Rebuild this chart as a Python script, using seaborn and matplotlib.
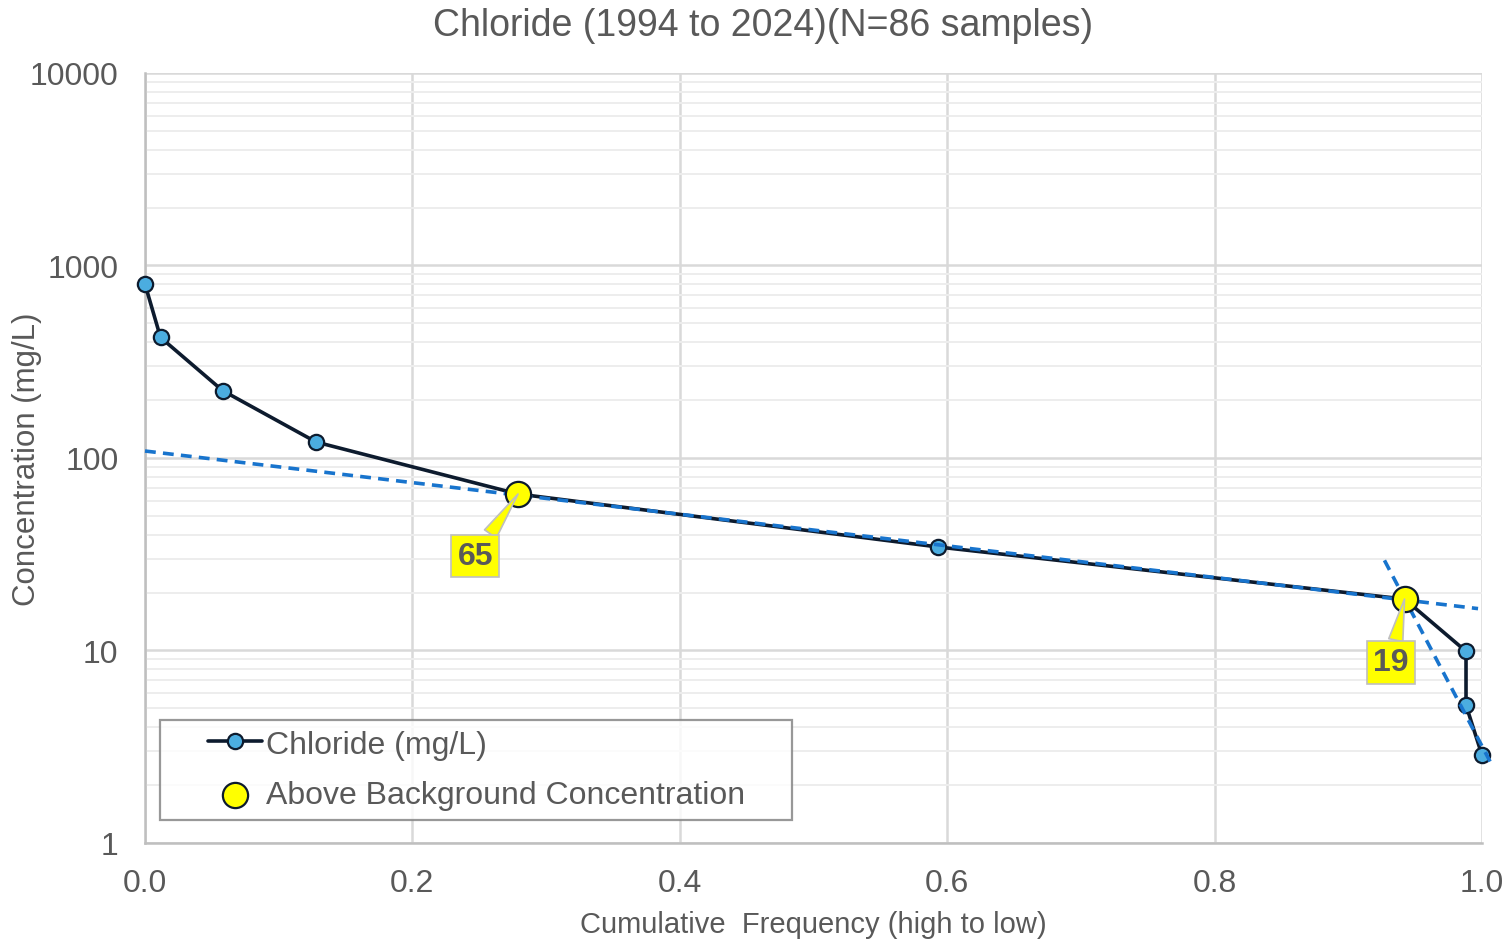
import numpy as np
import pandas as pd
import matplotlib
matplotlib.use("Agg")
import matplotlib.pyplot as plt
import seaborn as sns
from matplotlib.ticker import LogLocator, FixedLocator, FixedFormatter, NullFormatter
from matplotlib.legend_handler import HandlerLine2D, HandlerPathCollection
from matplotlib.lines import Line2D
from matplotlib.collections import PathCollection

# ---- data ----
cum_freq = [0.0, 0.0116, 0.058, 0.128, 0.279, 0.593, 0.942, 0.988, 0.988, 1.0]
chloride = [800, 423, 224, 121, 65, 34.5, 18.5, 9.9, 5.2, 2.85]
bg_freq = [0.279, 0.942]
bg_conc = [65, 18.5]
bg_labels = ["65", "19"]
label_freq = [0.247, 0.932]
label_conc = [31.0, 8.7]
trend1_x = [0.0, 0.997]
trend1_y = [108.7, 16.5]
trend2_x = [0.927, 1.006]
trend2_y = [29.4, 2.65]
x_ticks = [0.0, 0.2, 0.4, 0.6, 0.8, 1.0]
x_tick_labels = ["0.0", "0.2", "0.4", "0.6", "0.8", "1.0"]
y_ticks = [1, 10, 100, 1000, 10000]
y_tick_labels = ["1", "10", "100", "1000", "10000"]

sns.set_style("white")
plt.rcParams['font.family'] = ['Liberation Sans', 'DejaVu Sans']

TXT = "#595959"
GRID = "#D9D9D9"
MINOR = "#EDEDED"

fig = plt.figure(figsize=(15.12, 9.45), dpi=100)
ax = fig.add_axes([0.0959, 0.1069, 0.8843, 0.8148])

df = pd.DataFrame({"x": cum_freq, "y": chloride})
sns.lineplot(data=df, x="x", y="y", ax=ax, color="#0D1B2E", lw=2.6,
             marker="o", markersize=11, markerfacecolor="#4BADE0",
             markeredgecolor="#0D1B2E", markeredgewidth=1.6, zorder=4,
             label="Chloride (mg/L)", sort=False, estimator=None, clip_on=False)

ax.plot(trend1_x, trend1_y, ls=(0, (3, 2)), color="#1874CD", lw=2.6, zorder=5, clip_on=False)
ax.plot(trend2_x, trend2_y, ls=(0, (3, 2)), color="#1874CD", lw=2.6, zorder=5, clip_on=False)

sns.scatterplot(x=bg_freq, y=bg_conc, ax=ax, s=330, color="#FFFF00",
                edgecolor="#0D1B2E", linewidth=1.6, zorder=6,
                label="Above Background Concentration")

for lx, ly, px, py, t in zip(label_freq, label_conc, bg_freq, bg_conc, bg_labels):
    ax.annotate(t, xy=(px, py), xytext=(lx, ly), ha="center", va="center",
                fontsize=23, fontweight="bold", color=TXT, zorder=7,
                bbox=dict(boxstyle="square,pad=0.2", fc="#FFFF00", ec="#BFBFBF", lw=1.2),
                arrowprops=dict(arrowstyle="wedge,tail_width=0.45,shrink_factor=0.5",
                                fc="#FFFF00", ec="#BFBFBF", lw=1.2, shrinkA=0, shrinkB=0))

ax.set_yscale("log")
ax.set_xlim(0, 1.0)
ax.set_ylim(1, 10000)

ax.yaxis.set_major_locator(FixedLocator(y_ticks))
ax.yaxis.set_major_formatter(FixedFormatter(y_tick_labels))
ax.yaxis.set_minor_locator(LogLocator(base=10, subs=np.arange(2, 10)))
ax.yaxis.set_minor_formatter(NullFormatter())
ax.xaxis.set_major_locator(FixedLocator(x_ticks))
ax.xaxis.set_major_formatter(FixedFormatter(x_tick_labels))

ax.grid(True, which="major", color=GRID, lw=1.8, zorder=0)
ax.grid(True, which="minor", axis="y", color=MINOR, lw=1.4, zorder=0)
ax.set_axisbelow(True)

for s in ["top", "right"]:
    ax.spines[s].set_visible(False)
for s in ["left", "bottom"]:
    ax.spines[s].set_color("#BFBFBF")
    ax.spines[s].set_linewidth(1.8)

ax.tick_params(axis="both", which="major", direction="out", length=8, width=1.8,
               color="#BFBFBF", labelsize=23, labelcolor=TXT)
ax.tick_params(axis="y", which="major", pad=11)
ax.tick_params(axis="x", which="major", pad=10)
ax.tick_params(axis="y", which="minor", length=0)

ax.set_xlabel("Cumulative  Frequency (high to low)", fontsize=21, color=TXT, va="center")
ax.set_ylabel("Concentration (mg/L)", fontsize=22.5, color=TXT, va="center")
ax.xaxis.set_label_coords(0.5, -0.105)
ax.yaxis.set_label_coords(-0.0883, 0.5)
fig.text(0.505, 0.972, "Chloride (1994 to 2024)(N=86 samples)", fontsize=27,
         color=TXT, ha="center", va="center")

leg = ax.legend(loc="lower left", bbox_to_anchor=(0.0112, 0.0299, 0.4727, 0.0),
                mode="expand", fontsize=23,
                frameon=True, fancybox=False, edgecolor="#7F7F7F", labelcolor=TXT,
                borderpad=0.3, handlelength=2.9, labelspacing=0.65, borderaxespad=0,
                handletextpad=0.12,
                handler_map={Line2D: HandlerLine2D(xpad=1.2),
                             PathCollection: HandlerPathCollection(xpad=1.2)})
leg.get_frame().set_linewidth(1.6)
leg.set_zorder(10)
for h in leg.legend_handles:
    try:
        h.set_markersize(11)
    except Exception:
        pass

fig.savefig("out.png", dpi=100)
